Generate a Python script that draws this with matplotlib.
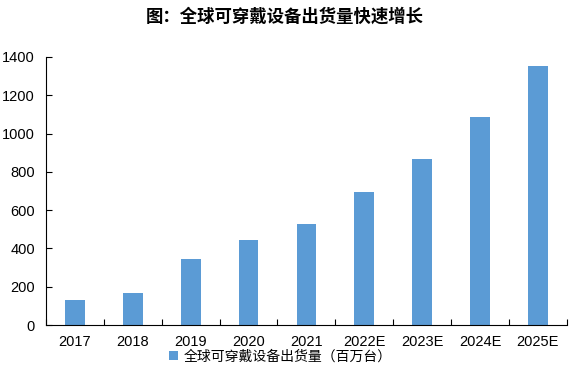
import matplotlib
matplotlib.use("Agg")
import matplotlib.pyplot as plt
import numpy as np

plt.rcParams['font.family'] = ['Liberation Sans', 'Noto Sans CJK SC', 'DejaVu Sans']

# data
years = ["2017", "2018", "2019", "2020", "2021", "2022E", "2023E", "2024E", "2025E"]
shipments = [130, 168, 345, 444, 526, 696, 869, 1085, 1355]
series_name = "全球可穿戴设备出货量（百万台）"
title = "图：全球可穿戴设备出货量快速增长"

fig = plt.figure(figsize=(5.69, 3.70), dpi=100)
ax = fig.add_axes([0.081, 0.1216, 0.915, 0.7244])

x = np.arange(len(years))
ax.bar(x, shipments, width=0.34, color="#5B9BD5", label=series_name, zorder=2)

ax.set_xlim(-0.5, len(years) - 0.5)
ax.set_ylim(0, 1400)
ax.set_yticks(np.arange(0, 1401, 200))
ax.set_xticks(x)
ax.set_xticklabels(years)
ax.set_xticks(np.arange(-0.5, len(years), 1), minor=True)
ax.tick_params(axis="x", which="major", length=0, labelsize=10.5, pad=7)
ax.tick_params(axis="x", which="minor", direction="in", length=4, width=0.8)
ax.tick_params(axis="y", direction="in", length=4, width=0.8, labelsize=10.5, pad=8)

for side in ["top", "right"]:
    ax.spines[side].set_visible(False)
ax.spines["left"].set_linewidth(0.8)
ax.spines["bottom"].set_linewidth(0.8)

fig.text(0.5, 0.955, title, ha="center", va="center", fontsize=12.5,
         fontweight="bold", family=["Noto Sans CJK SC", "DejaVu Sans"])

ax.legend(loc="upper center", bbox_to_anchor=(0.45, -0.055), frameon=False,
          handlelength=0.7, handleheight=0.7, handletextpad=0.4,
          borderpad=0.2,
          prop={"family": ["Noto Sans CJK SC", "DejaVu Sans"], "size": 10})

fig.savefig("out.png", dpi=100)
